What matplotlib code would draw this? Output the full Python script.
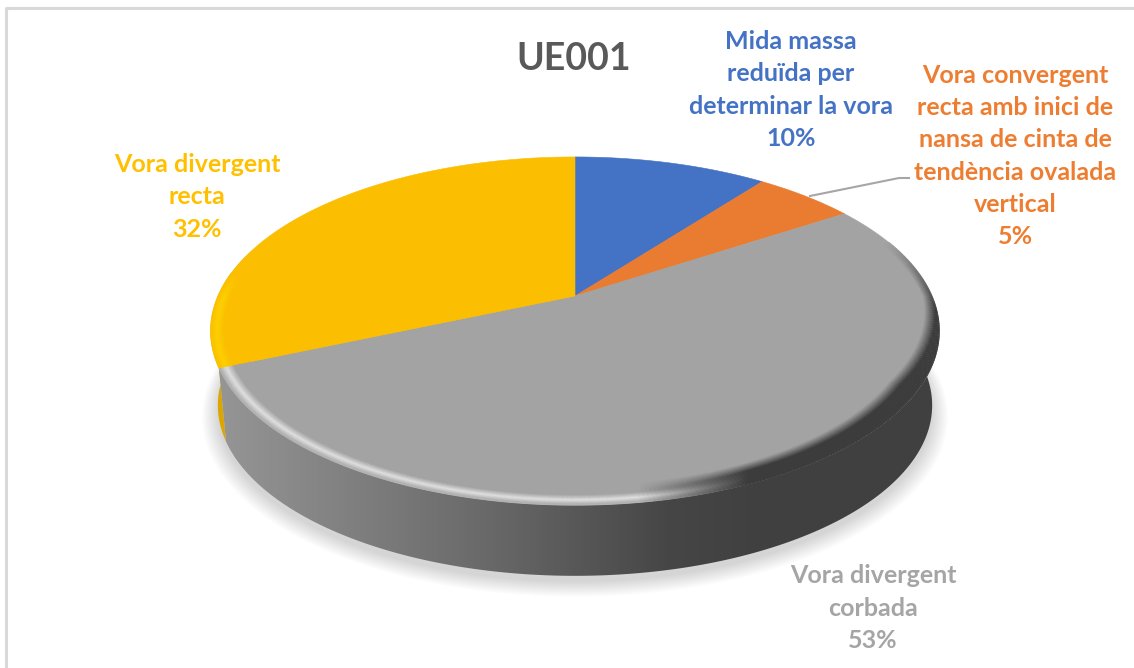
import matplotlib

matplotlib.use("Agg")
import matplotlib.pyplot as plt
import numpy as np
from matplotlib.collections import LineCollection
from matplotlib.colors import LinearSegmentedColormap, to_rgb
from matplotlib.patches import Polygon

plt.rcParams["font.family"] = ["Lato", "DejaVu Sans"]

# Data
title = "UE001"
categories = [
    "Mida massa\nreduïda per\ndeterminar la vora",
    "Vora convergent\nrecta amb inici de\nnansa de cinta de\ntendència ovalada\nvertical",
    "Vora divergent\ncorbada",
    "Vora divergent\nrecta",
]
values = [10.4, 5.4, 52.7, 31.5]
colors = ["#4472c4", "#e97c30", "#a3a3a3", "#fbbe00"]
label_colors = ["#4472c4", "#ed7d31", "#a5a5a5", "#ffc000"]
label_x = [791, 1015, 873, 197]
label_y = [90, 156, 608, 197]

# Projection of the tilted disc, in pixels
cx, cy = 575, 296
a, b, k = 357, 167, 0.201
depth, shrink = 75, 0.98


def project(theta, r=1.0):
    # theta in degrees, clockwise from the top
    t = np.radians(theta)
    u, v = r * np.sin(t), r * np.cos(t)
    w = 1 + k * v
    return cx + a * u / w, cy - b * v / w


def lower(x, y):
    return cx + shrink * (x - cx), cy + depth + shrink * (y - cy)


fig = plt.figure(figsize=(11.34, 6.68), dpi=100)
ax = fig.add_axes([0, 0, 1, 1])
ax.set_xlim(0, 1134)
ax.set_ylim(668, 0)
ax.axis("off")

# frame of the chart
ax.plot([6, 6, 1134], [668, 8, 8], color="#d9d9d9", lw=2.2, zorder=1)

# soft shadow under the pie
circle = np.linspace(0, 360, 361)
xs, ys = project(circle)
xl, yl = lower(xs, ys)
for grow in np.linspace(0, 16, 14):
    sx = cx + (xl - cx) * (1 + grow / 360)
    sy = cy + 6 + (yl - cy) * (1 + grow / 300)
    ax.add_patch(Polygon(np.column_stack([sx, sy]), fc="black", ec="none", alpha=0.012, zorder=2))

# slice angles from the values
edges = np.concatenate([[0], np.cumsum(values)]) / sum(values) * 360

# side of the yellow slice (visible only on the left)
th = np.linspace(edges[3], edges[4], 200)
x, y = project(th)
xb, yb = lower(x, y)
mask = th < 285
side = np.column_stack([np.r_[x[mask], xb[mask][::-1]], np.r_[y[mask], yb[mask][::-1]]])
ax.add_patch(Polygon(side, fc="#dca600", ec="none", zorder=3))

# side of the gray slice with its horizontal gradient
th = np.linspace(edges[2], edges[3], 400)
x, y = project(th)
xb, yb = lower(x, y)
keep = th >= 75
side = Polygon(
    np.column_stack([np.r_[x[keep], xb[keep][::-1]], np.r_[y[keep], yb[keep][::-1]]]),
    fc="none",
    ec="none",
    transform=ax.transData,
)
ax.add_patch(side)
side_cmap = LinearSegmentedColormap.from_list(
    "side", [(0, "#969696"), (0.38, "#686868"), (0.62, "#464646"), (0.75, "#404040"), (1, "#404040")]
)
grad = ax.imshow(
    np.linspace(0, 1, 512).reshape(1, -1),
    extent=[215, 945, 600, 300],
    cmap=side_cmap,
    aspect="auto",
    zorder=4,
)
grad.set_clip_path(side)
ax.set_xlim(0, 1134)
ax.set_ylim(668, 0)

# top faces of the slices
for i in range(len(values)):
    th = np.linspace(edges[i], edges[i + 1], 200)
    x, y = project(th)
    pts = np.column_stack([np.r_[cx, x], np.r_[cy, y]])
    ax.add_patch(Polygon(pts, fc=colors[i], ec=colors[i], lw=0.4, zorder=5))


# bevel along the rim of the front of the pie
def bevel(start, end, face, light, dark, reach):
    th = np.linspace(start, end, 300)
    face = np.array(to_rgb(face))
    light = np.array(to_rgb(light))
    dark = np.array(to_rgb(dark))
    for r in np.linspace(0.92, 0.998, 28):
        x, y = project(th, r)
        pts = np.column_stack([x, y])
        segs = np.stack([pts[:-1], pts[1:]], axis=1)
        v = np.cos(np.radians(th[:-1]))
        front = np.clip((reach - v) / reach, 0, 1)
        # light part peaks inside the rim, dark part grows towards the edge
        peak = np.clip(1 - abs(r - 0.983) / 0.02, 0, 1)
        r0 = 0.975 - 0.05 * np.clip(-v / 0.5, 0, 1)
        ramp = np.clip((r - r0) / 0.03, 0, 1)
        f = np.clip((x[:-1] - 640) / 110, 0, 1)[:, None]
        amount = front[:, None]
        cols = face + amount * ((1 - f) * peak * (light - face) + f * ramp[:, None] * (dark - face))
        ax.add_collection(LineCollection(segs, colors=np.clip(cols, 0, 1), linewidths=1.6, zorder=6))


bevel(70, edges[3], colors[2], "#e0e0e0", "#3c3c3c", 0.35)
bevel(edges[3], 278, colors[3], "#ffd400", "#ffd400", 0.15)

# leader line of the orange label
ax.plot([810, 899, 909], [196, 178, 178], color="#a6a6a6", lw=1.5, zorder=7)

# texts
ax.text(574, 59, title, color="#595959", fontsize=27, fontweight="bold", ha="center", va="center", zorder=8)
for i in range(len(values)):
    text = "{}\n{:.0f}%".format(categories[i], values[i])
    ax.text(
        label_x[i],
        label_y[i],
        text,
        color=label_colors[i],
        fontsize=18,
        fontweight="bold",
        ha="center",
        va="center",
        linespacing=1.49,
        zorder=8,
    )

fig.savefig("out.png", dpi=100)
